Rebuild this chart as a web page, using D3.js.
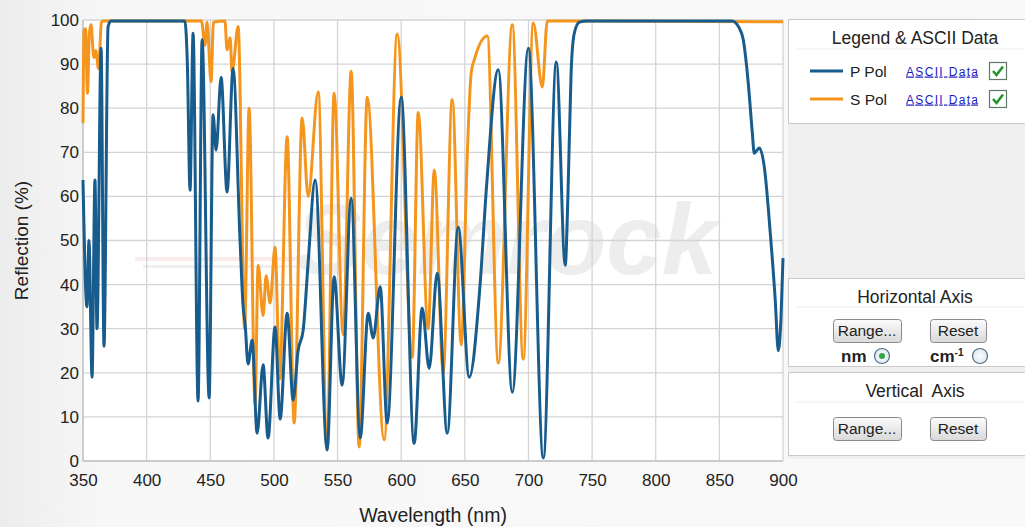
<!DOCTYPE html>
<html>
<head>
<meta charset="utf-8">
<script src="https://cdn.jsdelivr.net/npm/d3@7"></script>
<style>
  body { margin: 0; background: #f4f4f4; }
  svg { display: block; font-family: "Liberation Sans", Arial, sans-serif; }
</style>
</head>
<body>
<svg id="chart" width="1025" height="527"></svg>
<script>
// tick values
const wavelengthTicks = [350, 400, 450, 500, 550, 600, 650, 700, 750, 800, 850, 900];
const reflectionTicks = [0, 10, 20, 30, 40, 50, 60, 70, 80, 90, 100];

// [wavelength nm, reflection %]
const pPol = [
  [350,63.7],[353.1,35],[354.7,50],[357.1,19],[359.4,63.7],[361,30],[364.2,93.6],[366.5,26],[369.7,98.5],[372,99.8],
  [430,99.8],[432,90],[434.1,61.4],[436.5,97],[440.4,13.6],[443.6,95.5],[449.1,14.3],[452.2,78.5],[454.6,70.5],
  [458.5,87],[463.2,61],[467.9,89],[473.4,50],[475.8,35],[477.4,31],[479.7,22],[482.9,27.4],[486.8,6.3],
  [491.5,21.8],[495.4,5.2],[500.9,30.4],[504.9,9.5],[510.4,33.5],[515.1,13.8],[519,25],[523,29.7],[526.9,45],
  [532.4,63.7],[541.8,2.5],[547.3,41.8],[553.6,17.2],[560.7,59.6],[567.8,5.2],[574.1,33.5],[578,27.9],[583.5,39.5],
  [589,8.6],[600,82.5],[610.2,4],[616.5,34.7],[622,21],[628.3,42.6],[636.2,6.3],[644.8,53],[653.5,19],[662,40],
  [667,62],[676.3,88.7],[687.3,15.6],[699.9,93.6],[711.7,0.7],[721.9,90.5],[728.9,44.4],[731,60],[733.5,88],
  [736,97],[740,99.5],[746,99.8],
  [860,99.8],[865,98.5],[868.8,95.5],[872.7,85.7],[875.9,74.4],[877.4,69.8],[881.4,71],[885.3,66.7],[890,51.7],
  [893.9,36.5],[896.3,25],[898.5,33],[900,46]
];

const sPol = [
  [350,76.6],[350.8,97.5],[352,98],[353.5,83.4],[355,97],[356.3,99],[358.5,91.5],[360,93],[362.2,89],[364.5,99.5],
  [366,99.8],[443,99.8],[445.9,94.3],[447.5,99.5],[450.6,86],[452.5,99.5],[461.5,99.8],[463.2,93.2],[465.6,96],
  [467.1,88.2],[471.9,98.5],[477,30],[480.5,80],[485.2,13],[487.6,44.4],[491.5,33],[493.9,42],[497,35.8],
  [500.9,48.5],[504.5,18.6],[510.4,73.5],[515.9,8.6],[522.2,77.8],[526.9,60],[534.8,83.7],[541.8,2.5],
  [547.3,83.4],[554.4,28.6],[560.7,88.4],[567,3.2],[573.3,82.5],[586.6,4.8],[596.9,96.8],[608.7,23.5],
  [613.4,79],[621.2,30],[626,66],[633,20.2],[640.1,82],[647.2,26.3],[652,70],[655,88],[658,91.5],[667.6,96.4],
  [676.3,22.2],[687.3,98.9],[695.9,23.1],[703.8,99.3],[710.9,84.8],[714.8,99.8],[900,99.6]
];

const seriesNames = ['P Pol', 'S Pol'];
const seriesColours = ['#175c8d', '#f4961d'];

const svg = d3.select('#chart');
const margin = { top: 20, right: 242, bottom: 66, left: 83 };
const width = +svg.attr('width');
const height = +svg.attr('height');
const innerWidth = width - margin.left - margin.right;
const innerHeight = height - margin.top - margin.bottom;

const xScale = d3.scaleLinear().domain([350, 900]).range([0, innerWidth]);
const yScale = d3.scaleLinear().domain([0, 100]).range([innerHeight, 0]);

// page background
const defs = svg.append('defs');
const bg = defs.append('linearGradient').attr('id', 'bg').attr('x1', 0).attr('x2', 1).attr('y1', 0).attr('y2', 0);
bg.append('stop').attr('offset', '0%').attr('stop-color', '#ececec');
bg.append('stop').attr('offset', '10%').attr('stop-color', '#f7f7f7');
bg.append('stop').attr('offset', '100%').attr('stop-color', '#f9f9f9');
svg.append('rect').attr('width', width).attr('height', height).attr('fill', 'url(#bg)');

const btnGrad = defs.append('linearGradient').attr('id', 'btn').attr('x1', 0).attr('x2', 0).attr('y1', 0).attr('y2', 1);
btnGrad.append('stop').attr('offset', '0%').attr('stop-color', '#fbfbfb');
btnGrad.append('stop').attr('offset', '100%').attr('stop-color', '#d9d9d9');

const radioGrad = defs.append('radialGradient').attr('id', 'radio');
radioGrad.append('stop').attr('offset', '0%').attr('stop-color', '#ffffff');
radioGrad.append('stop').attr('offset', '100%').attr('stop-color', '#dde6ee');

defs.append('clipPath').attr('id', 'plotClip')
  .append('rect').attr('x', -2).attr('y', -2).attr('width', innerWidth + 4).attr('height', innerHeight + 2);

const g = svg.append('g').attr('transform', `translate(${margin.left},${margin.top})`);

g.append('rect').attr('width', innerWidth).attr('height', innerHeight).attr('fill', '#fff');

// watermark
const wm = g.append('g').attr('opacity', 0.6);
wm.append('rect').attr('x', 52).attr('y', 237).attr('width', 175).attr('height', 4).attr('fill', '#f4dede');
wm.append('rect').attr('x', 60).attr('y', 245).attr('width', 165).attr('height', 3).attr('fill', '#e6e6e6');
wm.append('text').attr('x', 212).attr('y', 254)
  .attr('font-size', 100).attr('font-weight', 'bold').attr('font-style', 'italic')
  .attr('fill', '#e2e2e2').text('Semrock');

// grid
g.append('g').selectAll('line').data(wavelengthTicks).join('line')
  .attr('x1', d => xScale(d)).attr('x2', d => xScale(d))
  .attr('y1', 0).attr('y2', innerHeight)
  .attr('stroke', '#d4d4d4').attr('stroke-width', 1.3);
g.append('g').selectAll('line').data(reflectionTicks).join('line')
  .attr('x1', 0).attr('x2', innerWidth)
  .attr('y1', d => yScale(d)).attr('y2', d => yScale(d))
  .attr('stroke', '#d4d4d4').attr('stroke-width', 1.3);
g.append('line').attr('x1', 0).attr('x2', 0).attr('y1', 0).attr('y2', innerHeight).attr('stroke', '#c4c4c4').attr('stroke-width', 1.5);
g.append('line').attr('x1', 0).attr('x2', innerWidth).attr('y1', innerHeight).attr('y2', innerHeight).attr('stroke', '#c4c4c4').attr('stroke-width', 1.5);

// curves
const lineGen = d3.line()
  .x(d => xScale(d[0]))
  .y(d => yScale(d[1]))
  .curve(d3.curveMonotoneX);

g.append('g').attr('clip-path', 'url(#plotClip)')
  .selectAll('path').data([sPol, pPol]).join('path')
    .attr('d', lineGen)
    .attr('fill', 'none')
    .attr('stroke', (d, i) => i === 0 ? seriesColours[1] : seriesColours[0])
    .attr('stroke-width', 3)
    .attr('stroke-linejoin', 'round');

// axes
const xAxis = g.append('g').attr('transform', `translate(0,${innerHeight})`)
  .call(d3.axisBottom(xScale).tickValues(wavelengthTicks).tickSize(0).tickPadding(13));
const yAxis = g.append('g')
  .call(d3.axisLeft(yScale).tickValues(reflectionTicks).tickSize(0).tickPadding(4));
[xAxis, yAxis].forEach(a => {
  a.select('.domain').remove();
  a.selectAll('text').attr('font-size', 17).attr('fill', '#222')
    .attr('font-family', '"Liberation Sans", Arial, sans-serif');
});

svg.append('text').attr('x', margin.left + innerWidth / 2).attr('y', 522)
  .attr('text-anchor', 'middle').attr('font-size', 19.5).attr('fill', '#222').text('Wavelength (nm)');
svg.append('text').attr('transform', `translate(28,${margin.top + innerHeight / 2}) rotate(-90)`)
  .attr('text-anchor', 'middle').attr('font-size', 19).attr('fill', '#222').text('Reflection (%)');

// right hand panels
const panelX = 788;
svg.append('rect').attr('x', panelX).attr('y', 19).attr('width', width - panelX).attr('height', 440).attr('fill', '#efefef');

const panel = (y, h, title, sepY) => {
  svg.append('rect').attr('x', panelX + 0.5).attr('y', y + 0.5).attr('width', width - panelX).attr('height', h)
    .attr('fill', '#fff').attr('stroke', '#c9c9c9');
  svg.append('line').attr('x1', panelX + 8).attr('x2', width).attr('y1', sepY).attr('y2', sepY).attr('stroke', '#eeeeee');
  return svg.append('text').attr('x', 915).attr('y', y + 25).attr('text-anchor', 'middle')
    .attr('font-size', 17.5).attr('fill', '#222').text(title);
};

panel(19, 104, 'Legend & ASCII Data', 49);
seriesNames.forEach((name, i) => {
  const ry = 71 + i * 28;
  svg.append('line').attr('x1', 810).attr('x2', 843).attr('y1', ry).attr('y2', ry)
    .attr('stroke', seriesColours[i]).attr('stroke-width', 3);
  svg.append('text').attr('x', 850).attr('y', ry + 5.5).attr('font-size', 15.5).attr('fill', '#222').text(name);
  svg.append('text').attr('x', 906).attr('y', ry + 4.5).attr('font-size', 12).attr('fill', '#1c1cc0')
    .attr('text-decoration', 'underline').attr('textLength', 72).text('ASCII Data');
  svg.append('rect').attr('x', 989.5).attr('y', ry - 8.5).attr('width', 17).attr('height', 17)
    .attr('fill', '#fff').attr('stroke', '#5e7a66').attr('stroke-width', 1.2);
  svg.append('path').attr('d', `M993,${ry} L996.5,${ry + 4} L1003,${ry - 4.5}`)
    .attr('fill', 'none').attr('stroke', '#23952b').attr('stroke-width', 2.6);
});

const button = (x, y, w, label) => {
  svg.append('rect').attr('x', x + 0.5).attr('y', y + 0.5).attr('width', w).attr('height', 23).attr('rx', 3)
    .attr('fill', 'url(#btn)').attr('stroke', '#8a8a8a');
  svg.append('text').attr('x', x + w / 2).attr('y', y + 17).attr('text-anchor', 'middle')
    .attr('font-size', 15.5).attr('fill', '#222').text(label);
};

panel(278, 88, 'Horizontal Axis', 307);
button(833, 319, 68, 'Range...');
button(930, 319, 56, 'Reset');
svg.append('text').attr('x', 841).attr('y', 362).attr('font-size', 17).attr('font-weight', 'bold').attr('fill', '#222').text('nm');
const cm = svg.append('text').attr('x', 930).attr('y', 362).attr('font-size', 17).attr('font-weight', 'bold').attr('fill', '#222');
cm.append('tspan').text('cm');
cm.append('tspan').attr('font-size', 10).attr('dy', -6).text('-1');
[[882, true], [980, false]].forEach(([cx, on]) => {
  svg.append('circle').attr('cx', cx).attr('cy', 356).attr('r', 7.5).attr('fill', 'url(#radio)').attr('stroke', '#4f6f86').attr('stroke-width', 1.2);
  if (on) svg.append('circle').attr('cx', cx).attr('cy', 356).attr('r', 3).attr('fill', '#34a443');
});

panel(372, 83, 'Vertical  Axis', 402).attr('xml:space', 'preserve');
button(833, 417, 68, 'Range...');
button(930, 417, 56, 'Reset');
</script>
</body>
</html>
